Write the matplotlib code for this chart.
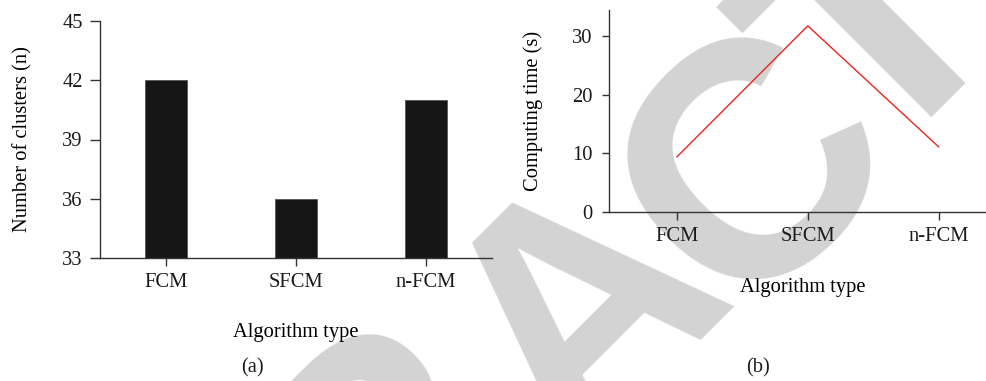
import numpy as np
import matplotlib
matplotlib.use('Agg')
import matplotlib.pyplot as plt

# ===== data =====
algorithms = ['FCM', 'SFCM', 'n-FCM']
n_clusters = [42, 36, 41]
computing_time = [9.4, 31.7, 11.1]

plt.rcParams['font.family'] = ['Liberation Serif', 'DejaVu Serif']
plt.rcParams['font.size'] = 14.8

spine_col = '#333333'
W, H = 987, 381

fig = plt.figure(figsize=(W / 100, H / 100), dpi=100)

# "RETRACTED" stamp behind the plots (letter baseline anchors in px)
stamp = [('R', 450, 525), ('A', 653, 380), ('C', 823, 235), ('T', 948, 98)]
for ch, px, py in stamp:
    fig.text(px / W, 1 - py / H, ch, fontsize=241, fontweight='bold',
             family='Liberation Sans', color='#d3d3d3', rotation=45,
             rotation_mode='anchor', ha='center', va='baseline', zorder=-1)


def style_axes(ax):
    ax.set_facecolor('none')
    for s in ['top', 'right']:
        ax.spines[s].set_visible(False)
    for s in ['left', 'bottom']:
        ax.spines[s].set_color(spine_col)
        ax.spines[s].set_linewidth(1.0)
    ax.tick_params(direction='out', width=1.0, color=spine_col,
                   labelcolor='#1a1a1a')
    ax.tick_params(axis='x', length=6, pad=5)


# ---- (a) number of clusters ----
ax1 = fig.add_axes([100 / W, 123 / H, 392 / W, 237 / H])
style_axes(ax1)
x = np.arange(len(algorithms))
ax1.bar(x, n_clusters, width=0.32, color='#161616', edgecolor='#555555',
        linewidth=0.6)
ax1.set_xlim(-0.51, 2.51)
ax1.set_ylim(33, 45)
ax1.set_yticks([33, 36, 39, 42, 45])
ax1.set_xticks(x)
ax1.set_xticklabels(algorithms)
ax1.tick_params(axis='y', length=7, pad=5.5)
ax1.set_ylabel('Number of clusters (n)')
ax1.yaxis.set_label_coords(-0.171, 0.5)
ax1.set_xlabel('Algorithm type')
ax1.xaxis.set_label_coords(0.5, -0.273)

# ---- (b) computing time ----
ax2 = fig.add_axes([609 / W, 169 / H, 378 / W, 202 / H])
style_axes(ax2)
ax2.plot(x, computing_time, color='#e8261e', linewidth=1.0)
ax2.set_xlim(-0.52, 2.37)
ax2.set_ylim(0, 34.4)
ax2.set_yticks([0, 10, 20, 30])
ax2.set_xticks(x)
ax2.set_xticklabels(algorithms)
ax2.tick_params(axis='y', length=5, pad=7)
ax2.set_ylabel('Computing time (s)')
ax2.yaxis.set_label_coords(-0.175, 0.5)
ax2.set_xlabel('Algorithm type')
ax2.xaxis.set_label_coords(0.513, -0.325)

fig.text(252 / W, 1 - 368 / H, '(a)', ha='center', va='center',
         color='#1a1a1a')
fig.text(758 / W, 1 - 368 / H, '(b)', ha='center', va='center',
         color='#1a1a1a')

fig.savefig('out.png', dpi=100)
